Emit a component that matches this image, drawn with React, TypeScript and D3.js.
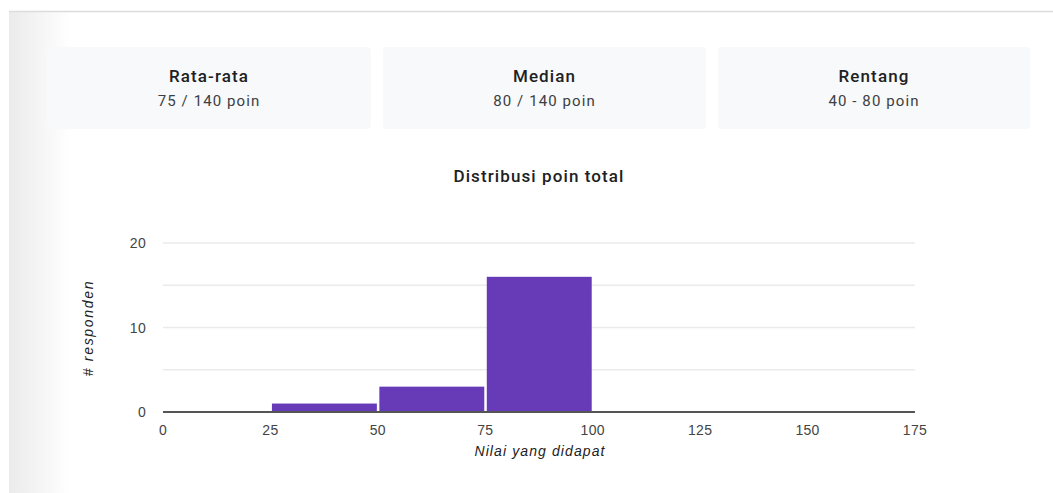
import React, { useEffect, useRef } from 'react';
import * as d3 from 'd3';

// summary cards
const cardTitles = ['Rata-rata', 'Median', 'Rentang'];
const cardValues = ['75 / 140 poin', '80 / 140 poin', '40 - 80 poin'];

// histogram
const binStarts = [0, 25, 50, 75, 100, 125, 150];
const binCounts = [0, 1, 3, 16, 0, 0, 0];
const binWidth = 25;
const xTicks = [0, 25, 50, 75, 100, 125, 150, 175];
const yTicks = [0, 10, 20];
const gridTicks = [0, 5, 10, 15, 20];

const W = 1053;
const H = 493;

const App: React.FC = () => {
  const ref = useRef<SVGSVGElement>(null);

  useEffect(() => {
    if (!ref.current) return;
    const svg = d3.select(ref.current);
    svg.selectAll('*').remove();

    // page chrome: left shadow strip + top border
    const defs = svg.append('defs');
    const grad = defs.append('linearGradient').attr('id', 'leftShade').attr('x1', 0).attr('x2', 1);
    grad.append('stop').attr('offset', 0).attr('stop-color', '#ebebeb');
    grad.append('stop').attr('offset', 1).attr('stop-color', '#ffffff');
    svg.append('rect').attr('x', 9).attr('y', 12).attr('width', 62).attr('height', H - 12).attr('fill', 'url(#leftShade)');
    svg.append('rect').attr('x', 71).attr('y', 12).attr('width', W - 71).attr('height', H - 12).attr('fill', '#fff');
    svg.append('line').attr('x1', 9).attr('x2', W).attr('y1', 11.5).attr('y2', 11.5)
      .attr('stroke', '#dcdcdc').attr('stroke-width', 1.5);

    // cards
    const cardX = [47, 383, 718];
    const cardW = [324, 323, 312];
    const cards = svg.append('g');
    cardTitles.forEach((t, i) => {
      const cx = cardX[i] + cardW[i] / 2;
      cards.append('rect').attr('x', cardX[i]).attr('y', 47).attr('width', cardW[i]).attr('height', 82)
        .attr('rx', 4).attr('fill', '#f8f9fa');
      cards.append('text').attr('x', cx).attr('y', 82).attr('text-anchor', 'middle')
        .style('font-family', 'Roboto, sans-serif').style('font-size', '17px').style('font-weight', 500)
        .style('letter-spacing', '1.1px')
        .attr('fill', '#202124').text(t);
      cards.append('text').attr('x', cx).attr('y', 106).attr('text-anchor', 'middle')
        .style('font-family', 'Roboto, sans-serif').style('font-size', '15px')
        .style('letter-spacing', '1.1px')
        .attr('fill', '#3c4043').text(cardValues[i]);
    });

    // chart
    const x = d3.scaleLinear().domain([0, 175]).range([163, 915]);
    const y = d3.scaleLinear().domain([0, 20]).range([412, 243]);
    const g = svg.append('g');

    g.append('text').attr('x', 539).attr('y', 182).attr('text-anchor', 'middle')
      .style('font-family', 'Roboto, sans-serif').style('font-size', '17px').style('font-weight', 500)
      .style('letter-spacing', '1.1px')
      .attr('fill', '#202124').text('Distribusi poin total');

    g.selectAll('line.grid').data(gridTicks.filter(d => d > 0)).join('line')
      .attr('class', 'grid')
      .attr('x1', x(0)).attr('x2', x(175))
      .attr('y1', d => y(d)).attr('y2', d => y(d))
      .attr('stroke', '#ebebeb').attr('stroke-width', 1.5);

    g.selectAll('rect.bar').data(binStarts.map((s, i) => ({ s, c: binCounts[i] })).filter(d => d.c > 0)).join('rect')
      .attr('class', 'bar')
      .attr('x', d => x(d.s) + 1.5)
      .attr('y', d => y(d.c))
      .attr('width', d => x(d.s + binWidth) - x(d.s) - 2.5)
      .attr('height', d => y(0) - y(d.c))
      .attr('fill', '#673ab7');

    g.append('line').attr('x1', x(0)).attr('x2', x(175)).attr('y1', y(0)).attr('y2', y(0))
      .attr('stroke', '#555').attr('stroke-width', 2);

    const tickFont = 'Arial, "Liberation Sans", sans-serif';
    g.selectAll('text.xt').data(xTicks).join('text')
      .attr('class', 'xt')
      .attr('x', d => x(d)).attr('y', 435).attr('text-anchor', 'middle')
      .style('font-family', tickFont).style('font-size', '14px').style('letter-spacing', '0.3px')
      .attr('fill', '#444').text(d => d);

    g.selectAll('text.yt').data(yTicks).join('text')
      .attr('class', 'yt')
      .attr('x', 146).attr('y', d => y(d) + 5).attr('text-anchor', 'end')
      .style('font-family', tickFont).style('font-size', '14px').style('letter-spacing', '0.3px')
      .attr('fill', '#444').text(d => d);

    g.append('text').attr('x', 540).attr('y', 456).attr('text-anchor', 'middle')
      .style('font-family', tickFont).style('font-size', '14px').style('font-style', 'italic')
      .style('letter-spacing', '1.1px')
      .attr('fill', '#222').text('Nilai yang didapat');

    g.append('text').attr('transform', `translate(93,${328}) rotate(-90)`).attr('text-anchor', 'middle')
      .style('font-family', tickFont).style('font-size', '14px').style('font-style', 'italic')
      .style('letter-spacing', '1.7px')
      .attr('fill', '#222').text('# responden');
  }, []);

  return (
    <div style={{ position: 'fixed', left: 0, top: 0, width: W, height: H, background: '#fff' }}>
      <svg ref={ref} width={W} height={H}></svg>
    </div>
  );
};

export default App;
